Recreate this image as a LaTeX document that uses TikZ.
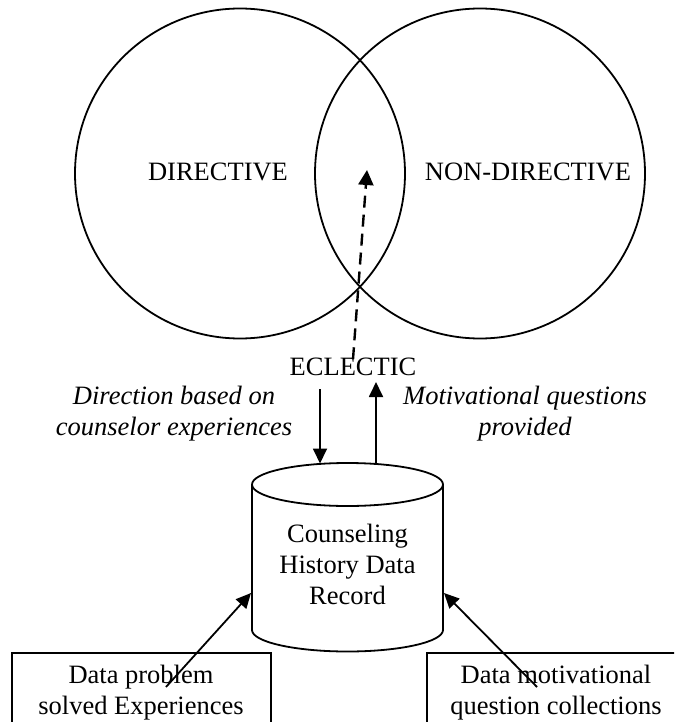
\documentclass[tikz,border=0pt]{standalone}
\usepackage{fontspec}
\setmainfont{Liberation Serif}
\usetikzlibrary{arrows.meta}
\begin{document}
\begin{tikzpicture}[x=1pt,y=-1pt,
  every node/.style={font=\fontsize{26.5}{31}\selectfont, inner sep=0pt},
  lbl/.style={align=center, anchor=base},
  ilbl/.style={lbl, font=\fontsize{26.5}{31}\selectfont\itshape},
  ln/.style={line width=1.8pt},
  arr/.style={ln, -{Triangle[length=15pt,width=14pt]}},
  darr/.style={line width=2.4pt, -{Triangle[length=15pt,width=15pt]}, dash pattern=on 12pt off 7pt},
  ring/.style={circle, draw, line width=1.8pt, minimum size=330pt},
  boxst/.style={draw, line width=1.8pt, minimum height=110pt, anchor=north west},
]
\clip (0,0) rectangle (674,722);
% circles
\node[ring] (dirc) at (240,173.5) {};
\node[ring] (ndirc) at (480,173.5) {};
\node[lbl] (dir) at (218,181) {DIRECTIVE};
\node[lbl] (ndir) at (528,181) {NON-DIRECTIVE};
% eclectic
\node[lbl] (ecl) at (353,375) {ECLECTIC};
\coordinate (dtip) at (367,170);
\draw[darr] ([yshift=-2pt]ecl.north) -- (dtip);
% side labels (base = last line)
\node[ilbl] (dbe) at (174,435) {Direction based on\\counselor experiences};
\node[ilbl] (mqp) at (525,435) {Motivational questions\\provided};
% cylinder
\draw[ln] (252,484.5) -- (252,630) arc[start angle=180, end angle=360, x radius=95.5pt, y radius=21.5pt] -- (443,484.5);
\draw[ln] (347.5,484.5) ellipse[x radius=95.5pt, y radius=21.5pt];
\node[lbl] (db) at (347.5,604) {Counseling\\History Data\\Record};
% vertical arrows
\coordinate (downS) at (320,389);
\coordinate (downT) at (320,463.5);
\coordinate (upS) at (376,464);
\coordinate (upT) at (376,382);
\draw[arr] (downS) -- (downT);
\draw[arr] (upS) -- (upT);
% boxes
\node[boxst, minimum width=259pt] (b1) at (11,652) {};
\node[boxst, minimum width=270pt] (b2) at (426,652) {};
\node[lbl] (t1) at (141,714) {Data problem\\solved Experiences};
\node[lbl] (t2) at (556,714) {Data motivational\\question collections};
% diagonal arrows
\coordinate (lS) at (166,687);
\coordinate (lT) at (251,593);
\coordinate (rS) at (537,687);
\coordinate (rT) at (444,593);
\draw[arr] (lS) -- (lT);
\draw[arr] (rS) -- (rT);
\end{tikzpicture}
\end{document}
